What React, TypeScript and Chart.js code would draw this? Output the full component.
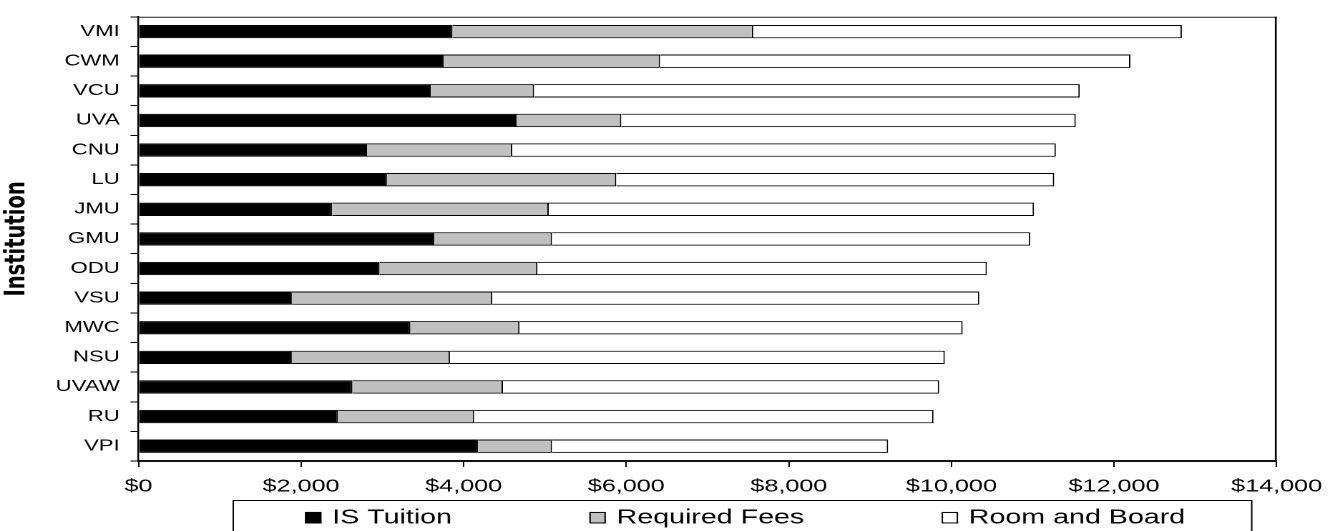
import React, { useEffect, useRef } from "react";
import { Chart, registerables } from "chart.js";

Chart.register(...registerables);

// ---- data ----
const institutions = ["VMI", "CWM", "VCU", "UVA", "CNU", "LU", "JMU", "GMU", "ODU", "VSU", "MWC", "NSU", "UVAW", "RU", "VPI"];
const isTuition = [3863, 3753, 3594, 4650, 2811, 3056, 2383, 3639, 2966, 1886, 3345, 1886, 2632, 2453, 4177];
const requiredFees = [3699, 2663, 1272, 1289, 1786, 2821, 2663, 1447, 1941, 2466, 1342, 1945, 1851, 1675, 909];
const roomAndBoard = [5272, 5785, 6712, 5590, 6687, 5387, 5969, 5884, 5529, 5990, 5451, 6087, 5366, 5651, 4135];
const seriesNames = ["IS Tuition", "Required Fees", "Room and Board"];
const xMin = 0;
const xMax = 14000;
const xStep = 2000;
const yTitle = "Institution";

// ---- layout (the original chart is horizontally stretched) ----
const S = 1335 / 933;
const W = 933;
const H = 531;

const areaBorder = {
  id: "areaBorder",
  afterDatasetsDraw(chart: any) {
    const { ctx, chartArea } = chart;
    ctx.save();
    ctx.strokeStyle = "#222";
    ctx.lineWidth = 1;
    ctx.beginPath();
    ctx.moveTo(chartArea.left, chartArea.top + 0.5);
    ctx.lineTo(chartArea.right, chartArea.top + 0.5);
    ctx.stroke();
    ctx.lineWidth = 1.3;
    ctx.strokeStyle = "#000";
    ctx.beginPath();
    ctx.moveTo(chartArea.right - 0.6, chartArea.top);
    ctx.lineTo(chartArea.right - 0.6, chartArea.bottom);
    ctx.stroke();
    ctx.restore();
  },
};

const boxLegend = {
  id: "boxLegend",
  afterDraw(chart: any) {
    const { ctx } = chart;
    const boxLeft = 163;
    const boxRight = 874.8;
    const boxTop = 500.5;
    const cy = 517.7;
    const sq = 11.5;
    const gap = 7.5;
    const spacing = 96;
    const centerX = 520.7;
    ctx.save();
    ctx.strokeStyle = "#000";
    ctx.lineWidth = 1;
    ctx.strokeRect(boxLeft, boxTop, boxRight - boxLeft, 60);
    ctx.font = '20px "Liberation Sans", Arial, sans-serif';
    ctx.textBaseline = "middle";
    ctx.textAlign = "left";
    const ds = chart.data.datasets;
    const widths = ds.map((d: any) => ctx.measureText(d.label).width);
    let total = 0;
    widths.forEach((w: number) => (total += sq + gap + w));
    total += spacing * (ds.length - 1);
    let x = centerX - total / 2;
    ds.forEach((d: any, i: number) => {
      ctx.fillStyle = d.backgroundColor;
      ctx.fillRect(x, cy - sq / 2, sq, sq);
      ctx.lineWidth = 1;
      ctx.strokeStyle = "#000";
      ctx.strokeRect(x + 0.5, cy - sq / 2 + 0.5, sq - 1, sq - 1);
      ctx.fillStyle = "#000";
      ctx.fillText(d.label, x + sq + gap, cy + 0.5);
      x += sq + gap + widths[i] + spacing;
    });
    ctx.restore();
  },
};

export default function App() {
  const ref = useRef<HTMLCanvasElement>(null);

  useEffect(() => {
    document.body.style.overflow = "hidden";
    const canvas = ref.current;
    if (!canvas) return;
    const barCommon = {
      borderColor: "#000",
      borderWidth: 1,
      barPercentage: 0.45,
      categoryPercentage: 1.0,
    };
    const chart = new Chart(canvas, {
      type: "bar",
      data: {
        labels: institutions,
        datasets: [
          { label: seriesNames[0], data: isTuition, backgroundColor: "#000000", ...barCommon },
          { label: seriesNames[1], data: requiredFees, backgroundColor: "#C0C0C0", ...barCommon },
          { label: seriesNames[2], data: roomAndBoard, backgroundColor: "#FFFFFF", ...barCommon },
        ],
      },
      options: {
        indexAxis: "y",
        animation: false,
        responsive: true,
        maintainAspectRatio: false,
        devicePixelRatio: 2,
        layout: { padding: { left: 0, top: 9, right: 37.8, bottom: 34 } },
        plugins: {
          legend: { display: false },
          tooltip: { enabled: false },
        },
        scales: {
          x: {
            stacked: true,
            min: xMin,
            max: xMax,
            ticks: {
              stepSize: xStep,
              padding: 9,
              color: "#000",
              font: { family: '"Liberation Sans", Arial, sans-serif', size: 17.6 },
              maxRotation: 0,
              callback: (v: any) => "$" + Number(v).toLocaleString("en-US"),
            },
            grid: {
              drawOnChartArea: false,
              drawTicks: true,
              tickLength: 6,
              tickColor: "#000",
              tickWidth: 1,
            },
            border: { display: true, color: "#111", width: 2 },
            afterFit: (scale: any) => {
              scale.height = 36;
            },
          },
          y: {
            stacked: true,
            ticks: {
              padding: 7.5,
              color: "#000",
              font: { family: '"Liberation Sans", Arial, sans-serif', size: 15.5 },
            },
            grid: {
              offset: true,
              drawOnChartArea: false,
              drawTicks: true,
              tickLength: 5.6,
              tickColor: "#000",
              tickWidth: 1,
            },
            border: { display: true, color: "#000", width: 1.2 },
            title: {
              display: true,
              text: yTitle,
              color: "#000",
              font: { family: '"DejaVu Sans", sans-serif', size: 19.5, weight: "bold" },
              padding: { top: 0, bottom: 4 },
            },
            afterFit: (scale: any) => {
              scale.width = 96.8;
            },
          },
        },
      },
      plugins: [areaBorder, boxLegend],
    } as any);
    return () => chart.destroy();
  }, []);

  return (
    <div
      style={{
        position: "absolute",
        left: 0,
        top: 0,
        width: W,
        height: H,
        transform: `scaleX(${S})`,
        transformOrigin: "0 0",
      }}
    >
      <canvas ref={ref} />
    </div>
  );
}
